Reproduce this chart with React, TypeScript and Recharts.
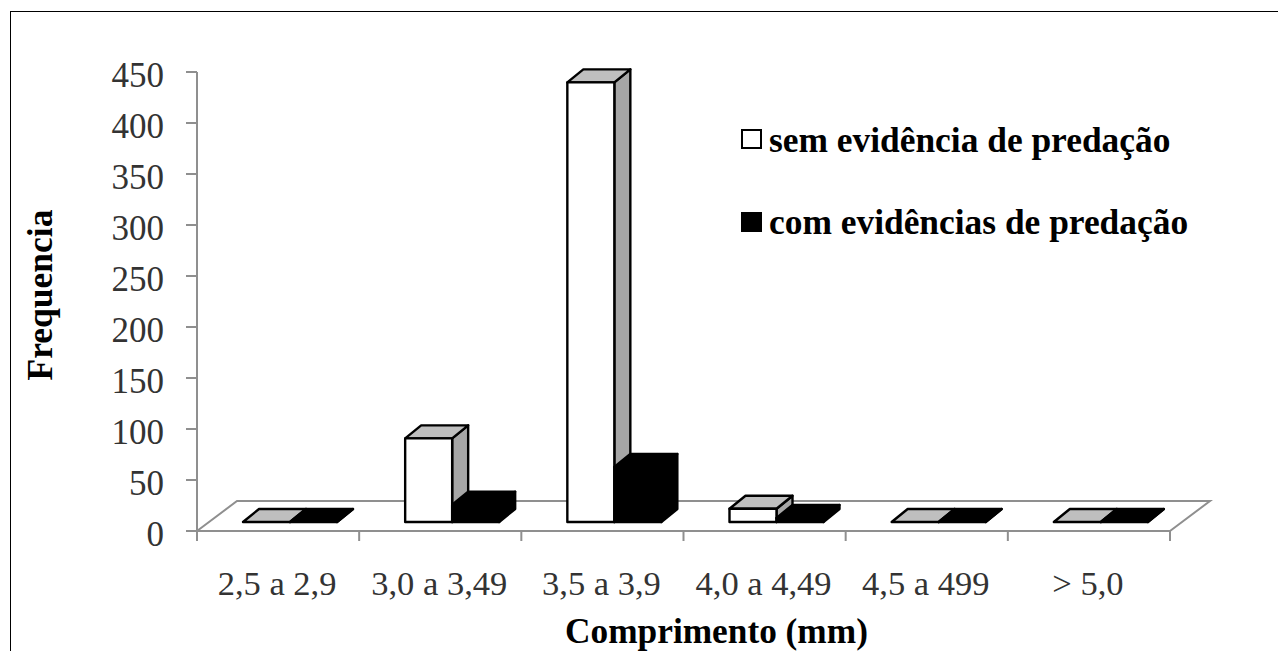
import { BarChart, Bar, XAxis, YAxis, Legend, usePlotArea } from 'recharts'

const categories = ['2,5 a 2,9', '3,0 a 3,49', '3,5 a 3,9', '4,0 a 4,49', '4,5 a 499', '> 5,0']
const semEvidencia = [0, 82, 431, 13, 0, 0]
const comEvidencia = [0, 17, 54, 4, 0, 0]
const yTicks = [0, 50, 100, 150, 200, 250, 300, 350, 400, 450]

const legendItems = [
  { label: 'sem evidência de predação', fill: '#ffffff' },
  { label: 'com evidências de predação', fill: '#000000' }
]

const data = categories.map((name, i) => ({
  name,
  sem: semEvidencia[i],
  com: comEvidencia[i]
}))

const SERIF = '"Liberation Serif", "Times New Roman", serif'
const AXIS = '#8f8f8f'
const TICK_TEXT = '#333333'

// the excel-style 3d look: depth of the boxes, and how far they sit off the axis
const DX = 16
const DY = 13
const SHIFT_X = 12
const SHIFT_Y = -9

function Box(props: any) {
  const { x, y, width, height, front, top, side } = props
  const l = x + SHIFT_X
  const r = l + width
  const t = y + SHIFT_Y
  const b = t + height
  const outline = { stroke: '#000', strokeWidth: 2.4, strokeLinejoin: 'round' as const }
  return (
    <g>
      <polygon points={`${r},${t} ${r + DX},${t - DY} ${r + DX},${b - DY} ${r},${b}`} fill={side} {...outline} />
      <polygon points={`${l},${t} ${l + DX},${t - DY} ${r + DX},${t - DY} ${r},${t}`} fill={top} {...outline} />
      {height > 0 && <rect x={l} y={t} width={width} height={height} fill={front} {...outline} />}
    </g>
  )
}

// floor of the 3d box, plus x ticks, which sit between the categories
function Floor() {
  const plot = usePlotArea()
  if (!plot) return null
  const { x, y, width, height } = plot
  const bottom = y + height
  const band = width / categories.length
  return (
    <g stroke={AXIS} strokeWidth={2} fill="none">
      <polyline points={`${x},${bottom} ${x + 40},${bottom - 30} ${x + width + 40},${bottom - 30} ${x + width},${bottom}`} />
      {[...categories, ''].map((_, i) => (
        <line key={i} x1={x + i * band} x2={x + i * band} y1={bottom} y2={bottom + 10} />
      ))}
    </g>
  )
}

function ChartLegend() {
  return (
    <div style={{ fontFamily: SERIF, fontWeight: 'bold', fontSize: 35.4, color: '#000' }}>
      {legendItems.map((item, i) => (
        <div key={item.label} style={{ display: 'flex', alignItems: 'center', height: 82, whiteSpace: 'nowrap' }}>
          <span
            style={{
              display: 'inline-block',
              boxSizing: 'border-box',
              width: 21,
              height: 20,
              background: item.fill,
              border: '2px solid #000',
              marginRight: 7,
              transform: `translateY(${i === 0 ? -1 : 0}px)`
            }}
          />
          {item.label}
        </div>
      ))}
    </div>
  )
}

export default function App() {
  return (
    <div style={{ position: 'absolute', left: 0, top: 0, width: 1278, height: 651, overflow: 'hidden', background: '#fff' }}>
      <div
        style={{
          position: 'absolute',
          left: 10,
          top: 11,
          width: 1290,
          height: 700,
          border: '1.5px solid #000',
          boxSizing: 'border-box'
        }}
      />
      <div style={{ position: 'absolute', left: 0, top: 0 }}>
        <BarChart
          width={1278}
          height={651}
          data={data}
          barSize={47}
          barGap={0}
          margin={{ top: 72, right: 108, bottom: 60, left: 137 }}
        >
          <Floor />
          <XAxis
            dataKey="name"
            height={60}
            interval={0}
            tickLine={false}
            tickSize={10}
            tickMargin={30}
            stroke={AXIS}
            strokeWidth={2}
            tick={{ fontFamily: SERIF, fontSize: 34.5, fill: TICK_TEXT, dx: -1 }}
            label={{
              value: 'Comprimento (mm)',
              position: 'insideBottom',
              offset: -52,
              dx: 33,
              style: { fontFamily: SERIF, fontSize: 35.3, fontWeight: 'bold', fill: '#000' }
            }}
          />
          <YAxis
            width={60}
            domain={[0, 450]}
            ticks={yTicks}
            interval={0}
            tickSize={11}
            tickMargin={22}
            stroke={AXIS}
            strokeWidth={2}
            tick={{ fontFamily: SERIF, fontSize: 35, fill: TICK_TEXT, dy: 3 }}
            label={{
              value: 'Frequencia',
              angle: -90,
              position: 'insideLeft',
              dx: -103,
              dy: 79,
              style: { fontFamily: SERIF, fontSize: 35.5, fontWeight: 'bold', fill: '#000' }
            }}
          />
          <Legend
            content={<ChartLegend />}
            layout="vertical"
            verticalAlign="middle"
            align="center"
            wrapperStyle={{ left: 741, top: 99, width: 480, right: 'auto' }}
          />
          <Bar
            dataKey="sem"
            isAnimationActive={false}
            shape={(p: any) => <Box {...p} front="#ffffff" top="#bfbfbf" side="#a6a6a6" />}
          />
          <Bar
            dataKey="com"
            isAnimationActive={false}
            shape={(p: any) => <Box {...p} front="#000000" top="#000000" side="#000000" />}
          />
        </BarChart>
      </div>
    </div>
  )
}
